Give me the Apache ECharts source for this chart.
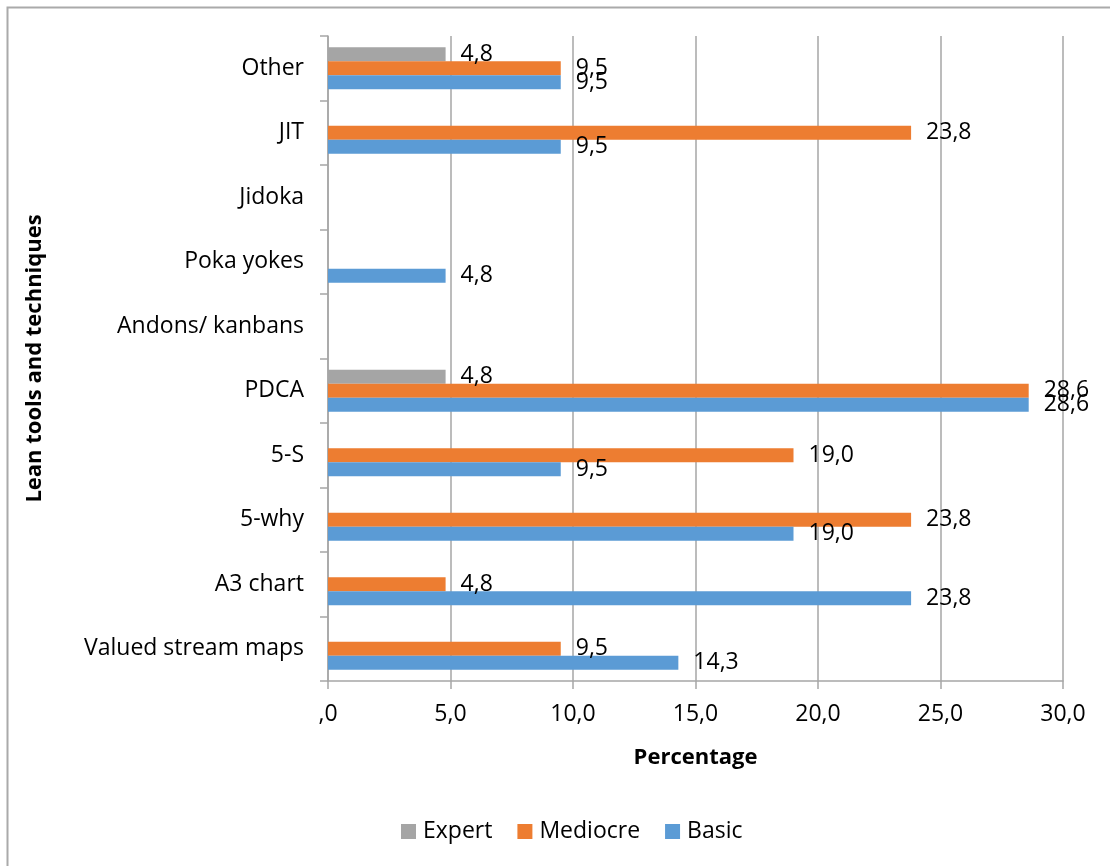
<!DOCTYPE html>
<html>
<head>
<meta charset="utf-8">
<script src="https://cdn.jsdelivr.net/npm/echarts@6/dist/echarts.min.js"></script>
<style>
html,body{margin:0;padding:0;background:#fff;}
#c{width:1110px;height:866px;}
</style>
</head>
<body>
<div id="c"></div>
<script>
const categories = ['Valued stream maps','A3 chart','5-why','5-S','PDCA','Andons/ kanbans','Poka yokes','Jidoka','JIT','Other'];
const basic    = [14.3, 23.8, 19.0,  9.5, 28.6, null, 4.8, null,  9.5, 9.5];
const mediocre = [ 9.5,  4.8, 23.8, 19.0, 28.6, null, null, null, 23.8, 9.5];
const expert   = [null, null, null, null,  4.8, null, null, null, null, 4.8];
const xTicks = [0, 5, 10, 15, 20, 25, 30];

const FONT = '"Open Sans"';
const FS = 23;
const fmt = v => { const s = Number(v).toFixed(1).replace('.', ','); return s.startsWith('0,') ? s.slice(1) : s; };

const chart = echarts.init(document.getElementById('c'), null, {renderer: 'canvas'});
const labelCfg = {
  show: true, position: 'right', distance: 15,
  fontFamily: FONT, fontSize: FS, color: '#000',
  formatter: p => fmt(p.value)
};
function mk(name, data, color) {
  return {
    name, type: 'bar', data, barWidth: 14, barGap: '0%',
    itemStyle: {color}, label: labelCfg, animation: false
  };
}
chart.setOption({
  animation: false,
  textStyle: {fontFamily: FONT},
  graphic: [{
    type: 'rect', shape: {x: 7.5, y: 7.5, width: 1200, height: 1000},
    style: {fill: 'none', stroke: '#aaa', lineWidth: 2}, silent: true
  }],
  grid: {left: 328, right: 47, top: 36, bottom: 185, containLabel: false},
  xAxis: {
    type: 'value', min: xTicks[0], max: xTicks[xTicks.length - 1], interval: 5,
    name: 'Percentage', nameLocation: 'middle', nameGap: 66,
    nameTextStyle: {fontFamily: FONT, fontSize: 22, fontWeight: 'bold', color: '#000'},
    axisLine: {show: true, lineStyle: {color: '#a6a6a6', width: 1.5}},
    axisTick: {show: true, length: 8, lineStyle: {color: '#a6a6a6', width: 1.5}},
    axisLabel: {fontFamily: FONT, fontSize: FS, color: '#000', margin: 22, formatter: v => fmt(v)},
    splitLine: {show: true, lineStyle: {color: '#a6a6a6', width: 1.5}}
  },
  yAxis: {
    type: 'category', data: categories,
    name: 'Lean tools and techniques', nameLocation: 'middle', nameGap: 282, nameRotate: 90,
    nameTextStyle: {fontFamily: FONT, fontSize: 22, fontWeight: 'bold', color: '#000'},
    axisLine: {show: true, lineStyle: {color: '#a6a6a6', width: 1.5}},
    axisTick: {show: true, length: 8, lineStyle: {color: '#a6a6a6', width: 1.5}},
    axisLabel: {fontFamily: FONT, fontSize: FS, color: '#000', margin: 24},
    splitLine: {show: false}
  },
  legend: {
    data: ['Expert', 'Mediocre', 'Basic'], top: 815, left: 396,
    icon: 'rect', itemWidth: 15, itemHeight: 15, itemGap: 25,
    textStyle: {fontFamily: FONT, fontSize: FS, color: '#000', padding: [0, 0, 0, 2]}
  },
  series: [
    mk('Expert', expert, '#a5a5a5'),
    mk('Mediocre', mediocre, '#ed7d31'),
    mk('Basic', basic, '#5b9bd5')
  ]
});
</script>
</body>
</html>
